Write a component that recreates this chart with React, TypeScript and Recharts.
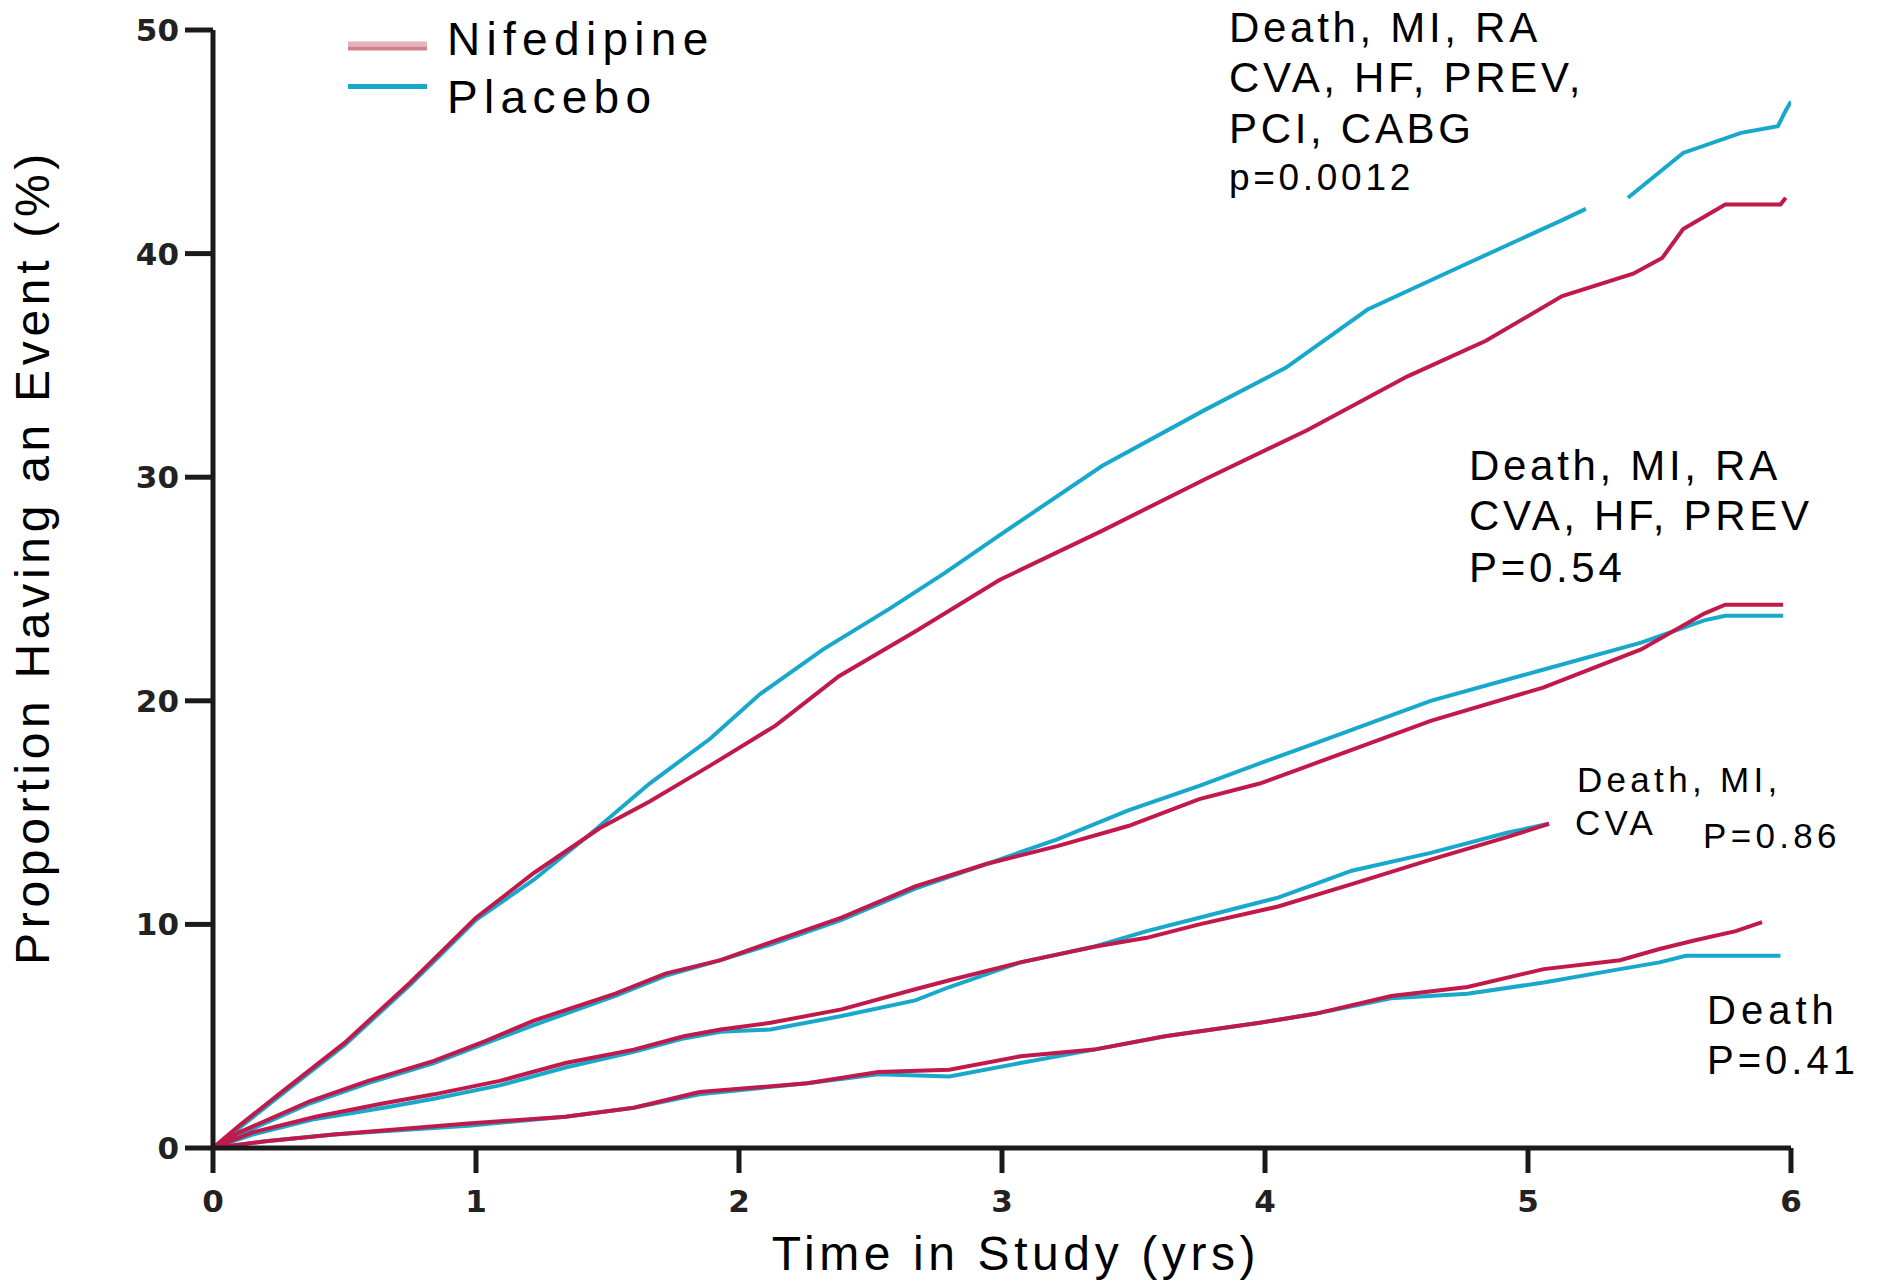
import React from "react";
import { LineChart, Line, XAxis, YAxis } from "recharts";

// Composite: Death, MI, RA, CVA, HF, PREV, PCI, CABG
const compPlaceboT = [0, 0.1, 0.25, 0.5, 0.75, 1.0, 1.22, 1.43, 1.66, 1.89, 2.08, 2.32, 2.57, 2.78, 2.99, 3.38, 3.77, 4.08, 4.39, 4.74, 5.13, 5.22, 5.3, 5.38, 5.59, 5.81, 5.95, 5.98, 6.0];
const compPlaceboV = [0, 0.9, 2.3, 4.6, 7.3, 10.2, 12.0, 14.0, 16.3, 18.3, 20.3, 22.3, 24.1, 25.7, 27.4, 30.5, 33.0, 34.9, 37.5, 39.4, 41.5, 42.0, null, 42.5, 44.5, 45.4, 45.7, 46.4, 46.8];
const compNifT = [0, 0.1, 0.25, 0.5, 0.75, 1.0, 1.22, 1.47, 1.66, 1.89, 2.14, 2.38, 2.67, 2.99, 3.38, 3.77, 4.16, 4.54, 4.84, 5.13, 5.4, 5.51, 5.59, 5.75, 5.96, 5.98];
const compNifV = [0, 1.0, 2.4, 4.7, 7.4, 10.3, 12.3, 14.3, 15.5, 17.1, 18.9, 21.1, 23.1, 25.4, 27.6, 29.9, 32.1, 34.5, 36.1, 38.1, 39.1, 39.8, 41.1, 42.2, 42.2, 42.5];

// Death, MI, RA, CVA, HF, PREV
const majorT = [0, 0.1, 0.37, 0.59, 0.84, 1.04, 1.22, 1.53, 1.72, 1.93, 2.12, 2.39, 2.67, 2.94, 3.21, 3.48, 3.75, 3.98, 4.19, 4.63, 5.06, 5.43, 5.67, 5.75, 5.97];
const majorPlaceboV = [0, 0.6, 2.0, 2.9, 3.8, 4.7, 5.5, 6.8, 7.7, 8.4, 9.1, 10.2, 11.6, 12.7, 13.8, 15.1, 16.2, 17.2, 18.1, 20.0, 21.4, 22.6, 23.6, 23.8, 23.8];
const majorNifV = [0, 0.7, 2.1, 3.0, 3.9, 4.8, 5.7, 6.9, 7.8, 8.4, 9.2, 10.3, 11.7, 12.7, 13.5, 14.4, 15.6, 16.3, 17.2, 19.1, 20.6, 22.3, 23.9, 24.3, 24.3];

// Death, MI, CVA
const mceT = [0, 0.15, 0.39, 0.65, 0.84, 1.09, 1.34, 1.6, 1.79, 1.93, 2.12, 2.39, 2.67, 2.8, 3.07, 3.35, 3.55, 3.75, 4.05, 4.33, 4.63, 4.92, 5.08];
const mcePlaceboV = [0, 0.6, 1.3, 1.8, 2.2, 2.8, 3.6, 4.3, 4.9, 5.2, 5.3, 5.9, 6.6, 7.2, 8.3, 9.0, 9.7, 10.3, 11.2, 12.4, 13.2, 14.1, 14.5];
const mceNifV = [0, 0.7, 1.4, 2.0, 2.4, 3.0, 3.8, 4.4, 5.0, 5.3, 5.6, 6.2, 7.1, 7.5, 8.3, 9.0, 9.4, 10.0, 10.8, 11.8, 12.9, 13.9, 14.5];

// Death
const deathPlaceboT = [0, 0.2, 0.46, 0.97, 1.34, 1.6, 1.85, 2.26, 2.53, 2.8, 3.07, 3.35, 3.62, 3.98, 4.19, 4.48, 4.77, 5.06, 5.35, 5.5, 5.6, 5.96];
const deathPlaceboV = [0, 0.3, 0.6, 1.0, 1.4, 1.8, 2.4, 2.9, 3.3, 3.2, 3.8, 4.4, 5.0, 5.6, 6.0, 6.7, 6.9, 7.4, 8.0, 8.3, 8.6, 8.6];
const deathNifT = [0, 0.2, 0.46, 0.97, 1.34, 1.6, 1.85, 2.26, 2.53, 2.8, 3.07, 3.35, 3.62, 3.98, 4.19, 4.48, 4.77, 5.06, 5.35, 5.5, 5.64, 5.79, 5.89];
const deathNifV = [0, 0.3, 0.6, 1.1, 1.4, 1.8, 2.5, 2.9, 3.4, 3.5, 4.1, 4.4, 5.0, 5.6, 6.0, 6.8, 7.2, 8.0, 8.4, 8.9, 9.3, 9.7, 10.1];

const xTicks = [0, 1, 2, 3, 4, 5, 6];
const yTicks = [0, 10, 20, 30, 40, 50];

const NIF = "#c2194b";
const PLA = "#18a8cc";

const rows = (t: number[], v: (number | null)[]) => t.map((x, i) => ({ t: x, v: v[i] }));

const placeboSeries = [
  rows(compPlaceboT, compPlaceboV),
  rows(majorT, majorPlaceboV),
  rows(mceT, mcePlaceboV),
  rows(deathPlaceboT, deathPlaceboV),
];
const nifSeries = [
  rows(compNifT, compNifV),
  rows(majorT, majorNifV),
  rows(mceT, mceNifV),
  rows(deathNifT, deathNifV),
];

const font = "'Liberation Sans', Arial, sans-serif";
const tickStyle = { fontSize: 31, fontFamily: "'DejaVu Sans', sans-serif", fontWeight: "bold", fill: "#222" };
const axisStroke = { stroke: "#1a1a1a", strokeWidth: 5 };

export default function App() {
  return (
    <div style={{ position: "relative", width: 1894, height: 1283, background: "#fff" }}>
      <style>{"body{margin:0;background:#fff}"}</style>
      <LineChart width={1894} height={1283} margin={{ top: 30, right: 103, bottom: 0, left: 0 }}>
        <XAxis
          type="number"
          dataKey="t"
          domain={[0, 6]}
          ticks={xTicks}
          interval={0}
          height={135}
          tickSize={25}
          tickMargin={17}
          axisLine={axisStroke}
          tickLine={axisStroke}
          tick={tickStyle}
          allowDataOverflow
        />
        <YAxis
          type="number"
          domain={[0, 50]}
          ticks={yTicks}
          interval={0}
          width={213}
          tickSize={28}
          tickMargin={6}
          axisLine={axisStroke}
          tickLine={axisStroke}
          tick={tickStyle}
          allowDataOverflow
        />
        {placeboSeries.map((d, i) => (
          <Line
            key={`p${i}`}
            data={d}
            dataKey="v"
            type="linear"
            stroke={PLA}
            strokeWidth={4}
            dot={false}
            activeDot={false}
            isAnimationActive={false}
          />
        ))}
        {nifSeries.map((d, i) => (
          <Line
            key={`n${i}`}
            data={d}
            dataKey="v"
            type="linear"
            stroke={NIF}
            strokeWidth={4}
            dot={false}
            activeDot={false}
            isAnimationActive={false}
          />
        ))}
      </LineChart>

      <svg
        width={1894}
        height={1283}
        style={{ position: "absolute", left: 0, top: 0, pointerEvents: "none" }}
        fontFamily={font}
        fill="#000"
      >
        {/* legend */}
        <line x1={348} x2={427} y1={44} y2={44} stroke="#e6b1b9" strokeWidth={5} />
        <line x1={348} x2={427} y1={48.5} y2={48.5} stroke="#d4808c" strokeWidth={4} />
        <line x1={348} x2={427} y1={86.5} y2={86.5} stroke={PLA} strokeWidth={5} />
        <text x={447} y={55} fontSize={46} letterSpacing={6.3}>Nifedipine</text>
        <text x={447} y={113} fontSize={46} letterSpacing={6.3}>Placebo</text>

        {/* axis titles */}
        <text x={1016} y={1270} fontSize={48} letterSpacing={4.6} textAnchor="middle">Time in Study (yrs)</text>
        <text x={49} y={557} fontSize={48} letterSpacing={4.7} textAnchor="middle" transform="rotate(-90 49 557)">
          Proportion Having an Event (%)
        </text>

        {/* curve annotations */}
        <g fontSize={42} letterSpacing={3.7}>
          <text x={1229} y={42}>Death, MI, RA</text>
          <text x={1229} y={92}>CVA, HF, PREV,</text>
          <text x={1229} y={143}>PCI, CABG</text>
        </g>
        <text x={1229} y={190} fontSize={37} letterSpacing={3.7}>p=0.0012</text>

        <g fontSize={42} letterSpacing={3.7}>
          <text x={1469} y={480}>Death, MI, RA</text>
          <text x={1469} y={530}>CVA, HF, PREV</text>
          <text x={1469} y={582}>P=0.54</text>
        </g>

        <g fontSize={35} letterSpacing={4.3}>
          <text x={1577} y={792}>Death, MI,</text>
          <text x={1575} y={835}>CVA</text>
          <text x={1703} y={848}>P=0.86</text>
        </g>

        <g fontSize={40} letterSpacing={5}>
          <text x={1707} y={1024}>Death</text>
          <text x={1707} y={1074} letterSpacing={4}>P=0.41</text>
        </g>
      </svg>
    </div>
  );
}
